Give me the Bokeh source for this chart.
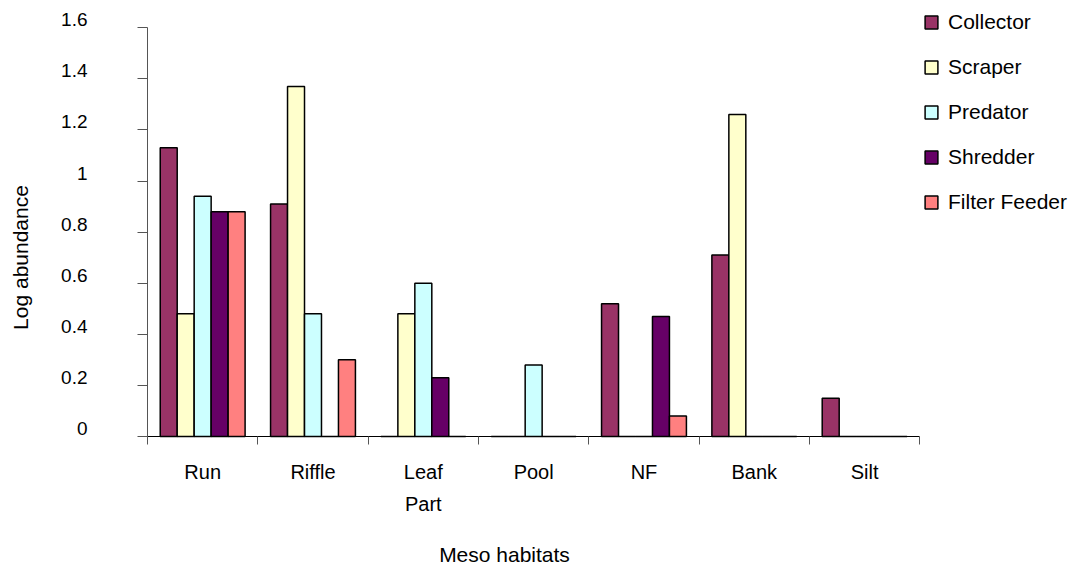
import math
import numpy as np
from bokeh.plotting import figure
from bokeh.models import (ColumnDataSource, Range1d, FixedTicker, Legend, LegendItem,
                          Label, LinearAxis)
from bokeh.embed import file_html
from bokeh.resources import INLINE

# ---- data ----
categories = ["Run", "Riffle", "Leaf\nPart", "Pool", "NF", "Bank", "Silt"]
series_names = ["Collector", "Scraper", "Predator", "Shredder", "Filter Feeder"]
collector = [1.13, 0.91, 0.0, 0.0, 0.52, 0.71, 0.15]
scraper = [0.48, 1.37, 0.48, 0.0, 0.0, 1.26, 0.0]
predator = [0.94, 0.48, 0.60, 0.28, 0.0, 0.0, 0.0]
shredder = [0.88, 0.0, 0.23, 0.0, 0.47, 0.0, 0.0]
filter_feeder = [0.88, 0.30, 0.0, 0.0, 0.08, 0.0, 0.0]
y_ticks = [0, 0.2, 0.4, 0.6, 0.8, 1.0, 1.2, 1.4, 1.6]
y_tick_labels = ["0", "0.2", "0.4", "0.6", "0.8", "1", "1.2", "1.4", "1.6"]
y_title = "Log abundance"
x_title = "Meso habitats"

colors = ["#993366", "#FFFFCC", "#CCFFFF", "#660066", "#FF8080"]
values = [collector, scraper, predator, shredder, filter_feeder]

FONT = "Liberation Sans"
W, H = 1074, 569
n_cat = len(categories)

# layout (pixels): axis origin and scale
ORIGIN_X, ORIGIN_Y = 147, 436
PX_PER_X, PX_PER_Y = 110.33, 255.5
LABEL_RAISE_PX = 8  # tick labels sit slightly above their tick marks


def dx(px):
    return (px - ORIGIN_X) / PX_PER_X


def dy(py):
    return (ORIGIN_Y - py) / PX_PER_Y


p = figure(
    width=W, height=H, frame_width=W, frame_height=H,
    x_range=Range1d(dx(0), dx(W)),
    y_range=Range1d(dy(H), dy(0)),
    output_backend="svg", toolbar_location=None,
    min_border=0, min_border_left=0, min_border_right=0, min_border_top=0, min_border_bottom=0,
)
p.outline_line_color = None
p.grid.visible = False
p.background_fill_color = "white"
p.border_fill_color = "white"

centers = np.arange(n_cat) + 0.5
bw = 1 / 6.5
items = []
for i, (name, vals, col) in enumerate(zip(series_names, values, colors)):
    src = ColumnDataSource(dict(x=centers + (i - 2) * bw, top=vals))
    r = p.vbar(x="x", top="top", width=bw, bottom=0, source=src,
               fill_color=col, line_color="black", line_width=1.5)
    items.append(LegendItem(label=name, renderers=[r]))

# y axis: line and tick marks
ya = p.yaxis[0]
ya.fixed_location = 0
ya.ticker = FixedTicker(ticks=y_ticks, minor_ticks=[])
ya.bounds = (0, 1.6)
ya.major_tick_in = 0
ya.major_tick_out = 10
ya.minor_tick_in = 0
ya.minor_tick_out = 0
ya.axis_line_color = "#555555"
ya.major_tick_line_color = "#555555"
ya.major_label_text_color = None

# y axis tick labels (drawn slightly above their ticks, as in the original)
raise_d = LABEL_RAISE_PX / PX_PER_Y
label_pos = [t + raise_d for t in y_ticks]
ya2 = LinearAxis(fixed_location=0)
ya2.ticker = FixedTicker(ticks=label_pos, minor_ticks=[])
ya2.major_label_overrides = {pos: lab for pos, lab in zip(label_pos, y_tick_labels)}
ya2.axis_line_color = None
ya2.major_tick_line_color = None
ya2.minor_tick_line_color = None
ya2.major_tick_in = 0
ya2.major_tick_out = 10
ya2.minor_tick_in = 0
ya2.minor_tick_out = 0
ya2.major_label_standoff = 50
ya2.major_label_text_font = FONT
ya2.major_label_text_font_size = "19px"
ya2.major_label_text_color = "black"
p.add_layout(ya2, "left")

# x axis: labels at centres, tick marks at category boundaries
xa = p.xaxis[0]
xa.fixed_location = 0
xa.ticker = FixedTicker(ticks=list(centers), minor_ticks=list(np.arange(n_cat + 1)))
xa.major_label_overrides = {float(c): lab for c, lab in zip(centers, categories)}
xa.bounds = (0, n_cat)
xa.major_tick_in = 0
xa.major_tick_out = 0
xa.minor_tick_in = 0
xa.minor_tick_out = 8
xa.minor_tick_line_color = "#555555"
xa.axis_line_color = "black"
xa.major_label_standoff = 16
xa.major_label_text_font = FONT
xa.major_label_text_font_size = "20px"
xa.major_label_text_color = "black"
xa.major_label_text_line_height = 1.46

# axis titles
p.add_layout(Label(x=dx(20), y=dy(257), text=y_title, angle=math.pi / 2,
                   text_align="center", text_baseline="middle", text_font=FONT,
                   text_font_size="21px", text_color="black"))
p.add_layout(Label(x=dx(504), y=dy(554), text=x_title,
                   text_align="center", text_baseline="middle", text_font=FONT,
                   text_font_size="21px", text_color="black"))

legend = Legend(items=items, location=(923, H - 10 - 204), orientation="vertical",
                padding=0, margin=0, spacing=21, glyph_width=16, glyph_height=16,
                label_standoff=9, label_text_font=FONT, label_text_font_size="21px",
                label_text_color="black", border_line_color=None, background_fill_alpha=0)
p.add_layout(legend)

open("out.html", "w").write(file_html(p, INLINE))
